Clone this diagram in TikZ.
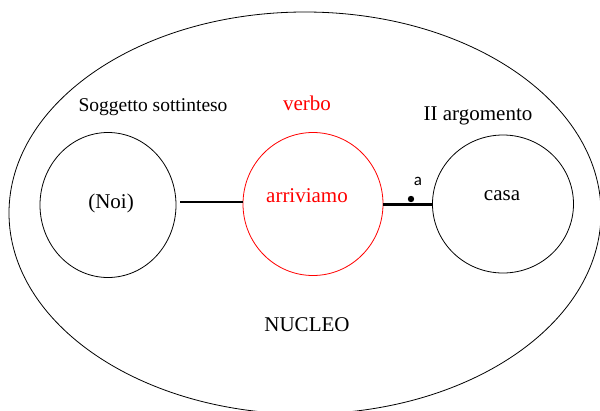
\documentclass[tikz,border=0pt]{standalone}
\usepackage{fontspec}
\setmainfont{Liberation Serif}
\newfontfamily\labfont{Carlito}
\usetikzlibrary{shapes.geometric}
\tikzset{
  circ/.style={draw=black, line width=0.8pt, ellipse, inner sep=0pt},
  txt/.style={font=\fontsize{21}{24}\selectfont, inner sep=0pt, anchor=center},
}
\begin{document}
\begin{tikzpicture}[x=1pt,y=-1pt]
\useasboundingbox (0,0) rectangle (600,410);
\fill[white] (0,0) rectangle (600,410);
\node[circ, minimum width=592pt, minimum height=402pt] (nucleo) at (305,213) {};
\node[circ, minimum width=136pt, minimum height=145pt] (noi) at (108,205) {};
\node[circ, draw=red, minimum width=140pt, minimum height=143pt] (verb) at (313,204) {};
\node[circ, minimum width=141pt, minimum height=138pt] (casa) at (503,204) {};
\node[txt, font=\fontsize{19.5}{22}\selectfont] (t1) at (153,107) {Soggetto sottinteso};
\node[txt, text=red] (t2) at (307,103) {verbo};
\node[txt] (t3) at (478,116) {II argomento};
\node[txt] (t4) at (111,203) {(Noi)};
\node[txt, text=red] (t5) at (307,196) {arriviamo};
\node[txt] (t6) at (502,196) {casa};
\node[txt] (t7) at (307,325) {NUCLEO};
\draw[line width=1.8pt] ([xshift=4pt]noi.east |- 0,202) coordinate (l1) -- (verb.west |- l1);
\draw[line width=3pt] (verb.east) -- (casa.west);
\coordinate (dot) at (411,199);
\fill (dot) circle (3.2pt);
\node[font=\labfont\fontsize{17}{20}\selectfont, inner sep=0pt] (a) at (418,181) {a};
\end{tikzpicture}
\end{document}
